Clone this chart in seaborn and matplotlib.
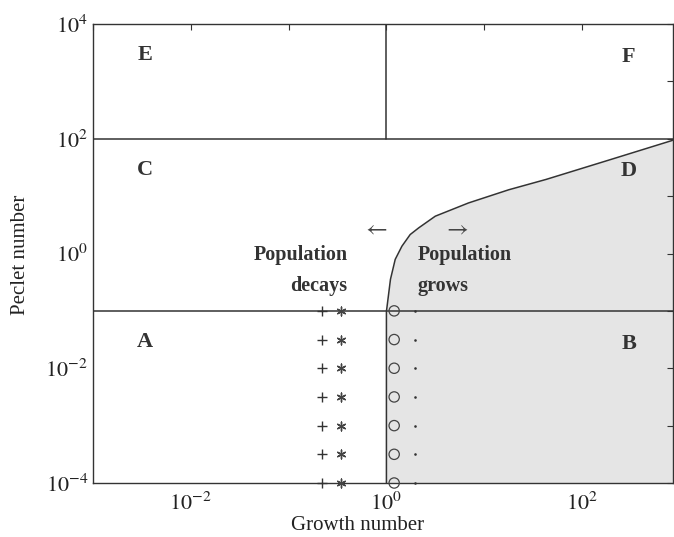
import numpy as np
import matplotlib
matplotlib.use("Agg")
import matplotlib.pyplot as plt
import seaborn as sns
import pandas as pd

# boundary between decaying and growing population (Growth number, Peclet number)
boundary_growth = [1.0, 1.0, 1.007, 1.10, 1.23, 1.44, 1.75, 2.14, 3.16, 6.9, 17.8, 42.7, 190.0, 830.0, 851.0]
boundary_peclet = [1e-4, 0.1, 0.107, 0.355, 0.79, 1.34, 2.14, 2.8, 4.47, 7.6, 12.9, 19.5, 42.7, 93.0, 96.0]

# simulation markers
marker_peclet = [1e-1, 10**-1.5, 1e-2, 10**-2.5, 1e-3, 10**-3.5, 1e-4]
plus_growth = 0.22
star_growth = 0.34
circle_growth = 1.2
dot_growth = 1.95

region_labels = ["E", "F", "C", "D", "A", "B"]
region_x = [0.0034, 300.0, 0.0034, 300.0, 0.0034, 300.0]
region_y = [2900.0, 2700.0, 29.0, 27.0, 0.029, 0.027]

sns.set_theme(style="white")
plt.rcParams['font.family'] = ['Liberation Serif', 'DejaVu Serif']
plt.rcParams['mathtext.fontset'] = 'stix'

fig = plt.figure(figsize=(6.74, 5.37), dpi=100)
ax = fig.add_axes([93/674, 1-483/537, (673-93)/674, (483-24)/537])
ax.set_xscale('log')
ax.set_yscale('log')
xmin, xmax = 1e-3, 10**2.93
ax.set_xlim(xmin, xmax)
ax.set_ylim(1e-4, 1e4)

# shaded growth region
ax.fill_betweenx(boundary_peclet + [100.0], boundary_growth + [xmax], xmax,
                 color='#e5e5e5', lw=0, zorder=0)

df = pd.DataFrame({"g": boundary_growth, "p": boundary_peclet})
sns.lineplot(data=df, x="g", y="p", sort=False, color='#333333', lw=1.1, ax=ax,
             estimator=None)

# region dividing lines
ax.axhline(100.0, color='#333333', lw=1.1)
ax.axhline(0.1, color='#333333', lw=1.1)
ax.plot([1.0, 1.0], [100.0, 1e4], color='#333333', lw=1.1)

n = len(marker_peclet)
sns.scatterplot(x=[plus_growth]*n, y=marker_peclet, marker='+',
                color='#333333', s=50, linewidth=1.0, ax=ax, zorder=5)
sns.scatterplot(x=[star_growth]*n, y=marker_peclet, marker=(6, 2, 0),
                color='#444444', s=40, linewidth=1.0, ax=ax, zorder=5)
sns.scatterplot(x=[circle_growth]*n, y=marker_peclet, marker='o',
                facecolor='none', edgecolor='#444444', s=55, linewidth=0.9, ax=ax, zorder=5)
sns.scatterplot(x=[dot_growth]*n, y=marker_peclet, marker='.',
                color='#333333', s=14, linewidth=0, ax=ax, zorder=5)
for coll in ax.collections:
    coll.set_clip_on(False)

for lab, x, y in zip(region_labels, region_x, region_y):
    ax.text(x, y, lab, fontsize=16, fontweight='bold', ha='center', va='center',
            color='#333333')

ax.text(0.40, 0.5, "Population\ndecays", fontsize=14.5, fontweight='bold',
        ha='right', va='center', color='#333333', linespacing=1.75)
ax.text(2.1, 0.5, "Population\ngrows", fontsize=14.5, fontweight='bold',
        ha='left', va='center', color='#333333', linespacing=1.75)
ax.text(0.77, 2.7, r"$\leftarrow$", fontsize=17, ha='center', va='center', color='#444444')
ax.text(5.1, 2.7, r"$\rightarrow$", fontsize=17, ha='center', va='center', color='#444444')

ax.set_xticks([1e-3, 1e-2, 1e-1, 1, 10, 100])
ax.set_xticklabels(['', r'$10^{-2}$', '', r'$10^{0}$', '', r'$10^{2}$'])
ax.set_yticks([1e-4, 1e-3, 1e-2, 1e-1, 1, 10, 100, 1e3, 1e4])
ax.set_yticklabels([r'$10^{-4}$', '', r'$10^{-2}$', '', r'$10^{0}$', '', r'$10^{2}$', '', r'$10^{4}$'])
ax.minorticks_off()
ax.tick_params(direction='in', length=4, width=0.8, colors='#333333', labelsize=16,
               top=True, right=True, labelcolor='#222222')
ax.tick_params(axis='x', pad=7)
for s in ax.spines.values():
    s.set_color('#333333')
    s.set_linewidth(1.0)

ax.set_xlabel("Growth number", fontsize=15, color='#222222')
ax.set_ylabel("Peclet number", fontsize=15, color='#222222')
ax.xaxis.set_label_coords((358-93)/580, -(516-483)/459)
ax.yaxis.set_label_coords(-(93-30)/580, (483-255)/459)

fig.savefig("out.png", dpi=100)
